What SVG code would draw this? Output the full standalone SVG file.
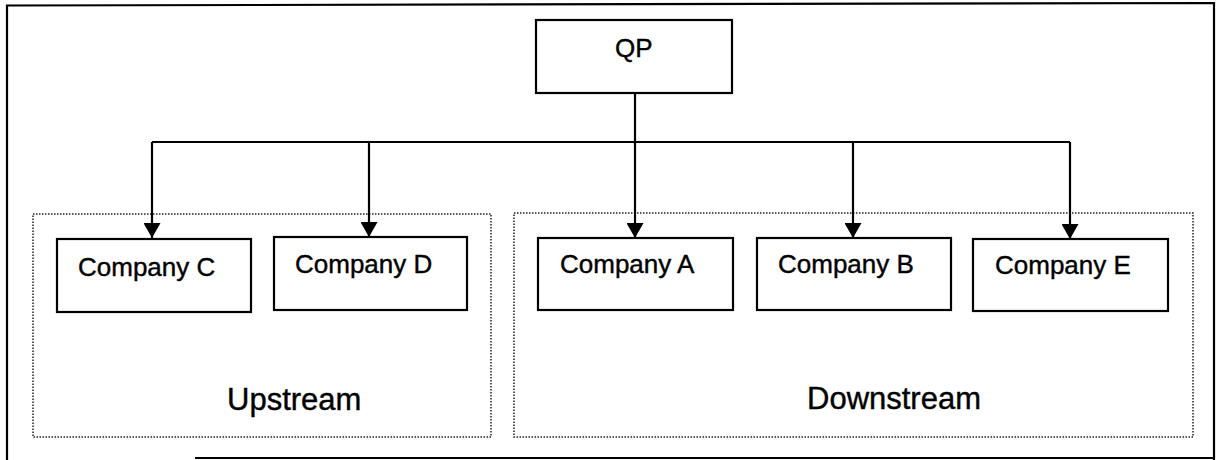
<svg xmlns="http://www.w3.org/2000/svg" width="1220" height="460" viewBox="0 0 1220 460">
  <style>
    .box { fill: #fff; stroke: #000; stroke-width: 2.2; }
    .group { fill: none; stroke: #222; stroke-width: 1.5; stroke-dasharray: 1.5 1.5; }
    .frame { fill: none; stroke: #000; stroke-width: 2.2; }
    .conn { fill: none; stroke: #000; stroke-width: 2.2; }
    .lbl { font-family: "Liberation Sans", Arial, Helvetica, sans-serif; font-size: 26px; fill: #000; stroke: #000; stroke-width: 0.4; }
    .glbl { font-family: "Liberation Sans", Arial, Helvetica, sans-serif; font-size: 31px; fill: #000; stroke: #000; stroke-width: 0.4; }
  </style>
  <defs>
    <marker id="arrow" markerUnits="userSpaceOnUse" markerWidth="17" markerHeight="17" viewBox="0 0 16 17" refX="15" refY="8.5" orient="auto">
      <path d="M0,0 L15,8.5 L0,17 Z" fill="#000"/>
    </marker>
  </defs>
  <rect width="1220" height="460" fill="#fff"/>

  <g id="frame">
    <path class="frame" d="M7,460 L7,5.5 L1214,3 L1214,460"/>
    <line class="frame" x1="195" y1="458" x2="1214" y2="458"/>
  </g>

  <g id="upstream-group">
    <rect class="group" x="33" y="214" width="458" height="223"/>
    <text class="glbl" x="227" y="410">Upstream</text>
  </g>
  <g id="downstream-group">
    <rect class="group" x="514" y="213" width="679" height="224"/>
    <text class="glbl" x="807" y="409">Downstream</text>
  </g>

  <g id="connectors">
    <line class="conn" x1="635" y1="93" x2="635" y2="142"/>
    <line class="conn" x1="152" y1="142" x2="1070" y2="142"/>
    <line class="conn" x1="152" y1="142" x2="152" y2="238" marker-end="url(#arrow)"/>
    <line class="conn" x1="369" y1="142" x2="369" y2="237" marker-end="url(#arrow)"/>
    <line class="conn" x1="635" y1="142" x2="635" y2="238" marker-end="url(#arrow)"/>
    <line class="conn" x1="853" y1="142" x2="853" y2="238" marker-end="url(#arrow)"/>
    <line class="conn" x1="1070" y1="142" x2="1070" y2="239" marker-end="url(#arrow)"/>
  </g>

  <g id="qp">
    <rect class="box" x="536" y="20" width="196" height="73"/>
    <text class="lbl" x="615" y="57">QP</text>
  </g>
  <g id="company-c">
    <rect class="box" x="57" y="239" width="194" height="73"/>
    <text class="lbl" x="78" y="276">Company C</text>
  </g>
  <g id="company-d">
    <rect class="box" x="274" y="237" width="193" height="73"/>
    <text class="lbl" x="295" y="273">Company D</text>
  </g>
  <g id="company-a">
    <rect class="box" x="538" y="238" width="195" height="72"/>
    <text class="lbl" x="560" y="273">Company A</text>
  </g>
  <g id="company-b">
    <rect class="box" x="757" y="238" width="194" height="72"/>
    <text class="lbl" x="778" y="273">Company B</text>
  </g>
  <g id="company-e">
    <rect class="box" x="973" y="239" width="195" height="72"/>
    <text class="lbl" x="995" y="274">Company E</text>
  </g>
</svg>
